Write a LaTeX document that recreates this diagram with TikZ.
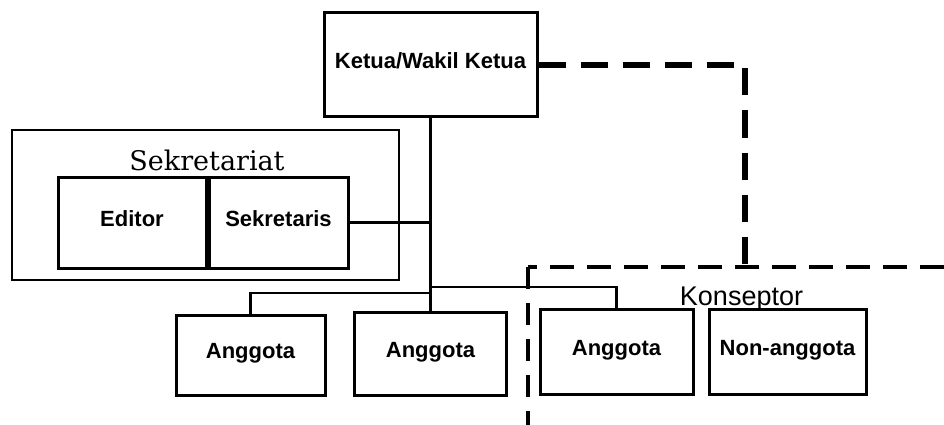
\documentclass[tikz,border=0pt]{standalone}
\usepackage{fontspec}
\setmainfont{Liberation Sans}
\newfontfamily\titleserif{DejaVu Serif}
\begin{document}
\begin{tikzpicture}[x=1pt,y=-1pt,
  box/.style={draw=black,line width=3pt,rectangle,inner sep=0pt,
    font=\bfseries\fontsize{22}{26}\selectfont,text height=0.72em,text depth=0pt},
  frame/.style={draw=black,line width=2.6pt,rectangle,inner sep=0pt},
  conn/.style={draw=black,line width=2.6pt},
  trunk/.style={draw=black,line width=3.4pt},
  bigdash/.style={draw=black,line width=5.5pt,dash pattern=on 27pt off 15pt},
  smalldash/.style={draw=black,line width=4pt,dash pattern=on 24pt off 13pt},
  vdash/.style={draw=black,line width=3.4pt,dash pattern=on 22pt off 14pt}]
\useasboundingbox (0,0) rectangle (944,425);
% Sekretariat frame
\node[frame,minimum width=387pt,minimum height=150pt] (sekfr) at (205.5,205) {};
\node[anchor=base,font=\titleserif\fontsize{27}{30}\selectfont] (sektitle) at (207,170) {Sekretariat};
% boxes
\node[box,minimum width=213pt,minimum height=104pt] (ketua) at (430.5,65) {Ketua/Wakil Ketua};
\node[box,minimum width=148pt,minimum height=91pt] (editor) at (132,222.5) {Editor};
\node[box,minimum width=139pt,minimum height=91pt] (sekr) at (278.5,222.5) {Sekretaris};
\node[box,minimum width=149pt,minimum height=80pt] (a1) at (250.5,355) {Anggota};
\node[box,minimum width=152pt,minimum height=83pt] (a2) at (430.5,353.5) {Anggota};
\node[box,minimum width=153pt,minimum height=85pt] (a3) at (616.5,351.5) {Anggota};
\node[box,minimum width=157pt,minimum height=85pt] (na) at (787.5,351.5) {Non-anggota};
\node[anchor=base,font=\fontsize{27}{30}\selectfont] (kons) at (741.5,305) {Konseptor};
% solid connectors
\draw[conn] (editor.east) -- (sekr.west);
\draw[trunk] (ketua.south) -- (a2.north);
\draw[trunk] (sekr.east) -- (ketua.south |- sekr.east);
\coordinate (j1) at (430.5,293);
\coordinate (j2) at (430.5,287);
\draw[conn] (j1) -| (a1.north);
\draw[conn] (j2) -| (a3.north);
% dashed lines
\coordinate (dc) at (745,267);
\draw[bigdash] (ketua.east) -| (dc);
\coordinate (dr) at (944,267);
\coordinate (dl) at (528,267);
\coordinate (db) at (528,425);
\draw[smalldash] (dr) -- (dl);
\draw[vdash] (dl) -- (db);
\end{tikzpicture}
\end{document}
